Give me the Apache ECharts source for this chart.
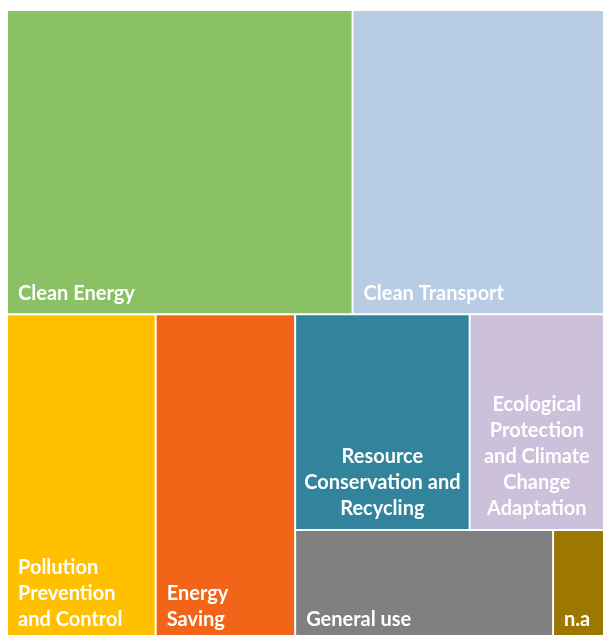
<!DOCTYPE html>
<html>
<head>
<meta charset="utf-8">
<script src="https://cdn.jsdelivr.net/npm/echarts@6/dist/echarts.min.js"></script>
<style>
html,body{margin:0;padding:0;background:#ffffff;}
#chart{width:603px;height:635px;}
</style>
</head>
<body>
<div id="chart"></div>
<script>
// Categories (in descending order of share)
const categories = [
  'Clean Energy',
  'Clean Transport',
  'Pollution Prevention and Control',
  'Energy Saving',
  'Resource Conservation and Recycling',
  'Ecological Protection and Climate Change Adaptation',
  'General use',
  'n.a'
];
// Share of each category (%), read from tile areas
const shares = [27.9, 20.3, 12.9, 12.1, 10.0, 7.7, 7.6, 1.5];
// Tile label text as wrapped in the reference
const labelText = [
  'Clean Energy',
  'Clean Transport',
  'Pollution\nPrevention\nand Control',
  'Energy\nSaving',
  'Resource\nConservation and\nRecycling',
  'Ecological\nProtection\nand Climate\nChange\nAdaptation',
  'General use',
  'n.a'
];

// Styling
const colors = ['#89C164', '#B8CCE4', '#FFC000', '#F26519', '#31849B', '#CCC0DA', '#808080', '#9C7800'];
const centeredLabels = ['Resource Conservation and Recycling', 'Ecological Protection and Climate Change Adaptation'];

const chart = echarts.init(document.getElementById('chart'), null, {renderer: 'canvas'});
chart.setOption({
  animation: false,
  backgroundColor: '#ffffff',
  series: [{
    type: 'treemap',
    left: 8, top: 11, right: 0, bottom: -5,
    squareRatio: 0.83,
    sort: 'desc',
    roam: false,
    nodeClick: false,
    breadcrumb: {show: false},
    itemStyle: {borderWidth: 0, gapWidth: 2, borderColor: '#ffffff'},
    label: {
      show: true,
      position: 'insideBottomLeft',
      distance: 0,
      padding: [0, 10, 7, 10],
      color: '#ffffff',
      fontFamily: 'Lato',
      fontWeight: 'bold',
      fontSize: 20,
      lineHeight: 26,
      overflow: 'none',
      formatter: function (p) { return labelText[categories.indexOf(p.name)]; }
    },
    emphasis: {disabled: true},
    data: categories.map(function (name, i) {
      const item = {name: name, value: shares[i], itemStyle: {color: colors[i]}};
      if (centeredLabels.indexOf(name) >= 0) {
        item.label = {position: 'insideBottom', align: 'center'};
      }
      return item;
    })
  }]
});
</script>
</body>
</html>
